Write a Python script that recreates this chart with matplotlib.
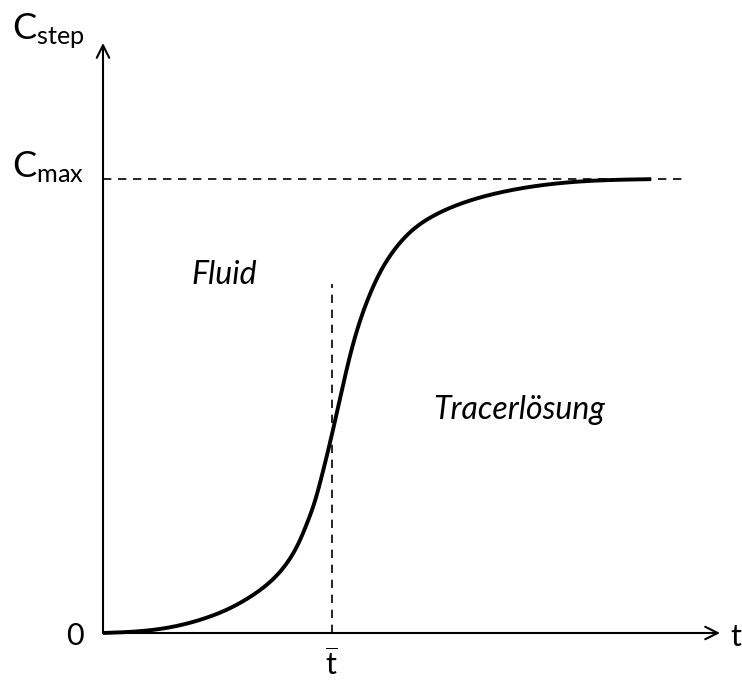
import matplotlib
matplotlib.use("Agg")
import matplotlib.pyplot as plt
import numpy as np

# Curve (t normalised to t_bar = 1, C normalised to C_max = 1)
t_vals = [0.0, 0.236, 0.455, 0.557, 0.645, 0.732, 0.806, 0.850, 0.893, 0.930,
          0.959, 0.996, 1.025, 1.054, 1.083, 1.113, 1.171, 1.215, 1.273, 1.346,
          1.449, 1.566, 1.741, 2.092, 2.399]
c_vals = [0.0, 0.008, 0.034, 0.055, 0.080, 0.113, 0.155, 0.192, 0.242, 0.295,
          0.349, 0.425, 0.489, 0.554, 0.615, 0.669, 0.750, 0.797, 0.843, 0.884,
          0.920, 0.946, 0.971, 0.995, 1.0]
t_bar = 1.0
c_max = 1.0
cmax_line_end = 2.544
tbar_line_top = 0.77

plt.rcParams['font.family'] = ['Lato', 'DejaVu Sans']
plt.rcParams['mathtext.fontset'] = 'custom'
plt.rcParams['mathtext.rm'] = 'Lato'
plt.rcParams['mathtext.it'] = 'Lato:italic'

fig = plt.figure(figsize=(7.42, 6.82), dpi=100)
ax = fig.add_axes([103/742, (682-633)/682, 617/742, 590/682])
ax.set_xlim(0, 2.70)
ax.set_ylim(0, 1.30)
ax.axis('off')

# natural cubic spline through the read points (for a smooth drawn line)
def spline(x, y, xn):
    x = np.asarray(x, float); y = np.asarray(y, float)
    n = len(x); h = np.diff(x)
    A = np.zeros((n, n)); b = np.zeros(n)
    A[0, 0] = 1; A[-1, -1] = 1
    for i in range(1, n - 1):
        A[i, i-1] = h[i-1]; A[i, i] = 2*(h[i-1] + h[i]); A[i, i+1] = h[i]
        b[i] = 6*((y[i+1]-y[i])/h[i] - (y[i]-y[i-1])/h[i-1])
    M = np.linalg.solve(A, b)
    idx = np.clip(np.searchsorted(x, xn) - 1, 0, n - 2)
    hh = h[idx]; a = x[idx+1] - xn; c = xn - x[idx]
    return (M[idx]*a**3 + M[idx+1]*c**3)/(6*hh) + (y[idx]/hh - M[idx]*hh/6)*a + (y[idx+1]/hh - M[idx+1]*hh/6)*c

tt = np.linspace(t_vals[0], t_vals[-1], 800)
ax.plot(tt, spline(t_vals, c_vals, tt), color='black', lw=2.8, solid_capstyle='butt', clip_on=False)

# dashed guides
ax.plot([0, cmax_line_end], [c_max, c_max], color='black', lw=1.2, ls=(0, (5, 4)))
ax.plot([t_bar, t_bar], [0, tbar_line_top], color='black', lw=1.2, ls=(0, (5, 4)))

# axes with open arrowheads
arrow = dict(arrowstyle='->,head_length=0.9,head_width=0.45', color='black', lw=1.5,
             shrinkA=0, shrinkB=0)
ax.annotate('', xy=(2.70, 0), xytext=(0, 0), arrowprops=arrow, annotation_clip=False)
ax.annotate('', xy=(0, 1.30), xytext=(0, 0), arrowprops=arrow, annotation_clip=False)

# labels
ax.text(-0.399, 1.308, r'$\mathrm{C}_{\mathrm{step}}$', fontsize=26, ha='left', va='baseline', clip_on=False)
ax.text(-0.399, 1.005, r'$\mathrm{C}_{\mathrm{max}}$', fontsize=26, ha='left', va='baseline', clip_on=False)
ax.text(-0.123, -0.007, '0', fontsize=22, ha='center', va='center', clip_on=False)
ax.text(2.77, -0.009, 't', fontsize=22, ha='center', va='center', clip_on=False)
ax.text(t_bar, -0.068, r'$\overline{\mathrm{t}}$', fontsize=22, ha='center', va='center', clip_on=False)
ax.text(0.53, 0.789, 'Fluid', fontsize=23, style='italic', ha='center', va='center')
ax.text(1.82, 0.492, 'Tracerlösung', fontsize=23, style='italic', ha='center', va='center')

fig.savefig('out.png', dpi=100)
